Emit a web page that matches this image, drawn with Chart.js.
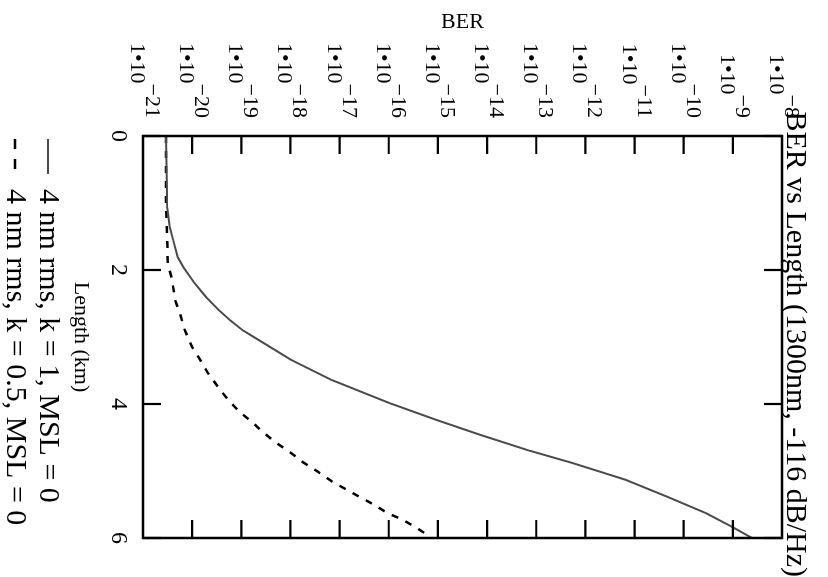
<!DOCTYPE html>
<html>
<head>
<meta charset="utf-8">
<script src="https://cdn.jsdelivr.net/npm/chart.js@4.4.0/dist/chart.umd.min.js"></script>
<style>
  html, body { margin: 0; padding: 0; background: #fff; overflow: hidden; }
  body { width: 828px; height: 577px; position: relative; }
  /* the chart is drawn upright (577 x 828) and then turned a quarter clockwise */
  #wrap { position: absolute; left: 0; top: 0; width: 577px; height: 828px;
          transform-origin: 0 0; transform: translateX(828px) rotate(90deg); }
  canvas { display: block; }
</style>
</head>
<body>
<div id="wrap"><canvas id="myChart" width="577" height="828"></canvas></div>
<script>
// Dados
var titleText = 'BER vs Length (1300nm, -116 dB/Hz)';
var seriesNames = ['4 nm rms, k = 1, MSL = 0', '4 nm rms, k = 0.5, MSL = 0'];

var lengthK1 = [0, 1.07, 1.36, 1.55, 1.81, 1.97, 2.19, 2.40, 2.60, 2.75, 2.90, 3.04, 3.34, 3.64,
                3.99, 4.24, 4.46, 4.69, 4.88, 5.13, 5.39, 5.63, 5.84, 6.0];
var berK1 = [2.95e-21, 3.1e-21, 3.5e-21, 4.1e-21, 5.1e-21, 6.8e-21, 1.1e-20, 1.9e-20, 3.5e-20, 5.9e-20,
             1.07e-19, 2.2e-19, 1.02e-18, 6.8e-18, 1.07e-16, 9.5e-16, 7.2e-15, 6.8e-14, 5.4e-13, 6.5e-12,
             4.8e-11, 2.85e-10, 1.0e-9, 2.45e-9];

var lengthK05 = [0, 1.03, 1.55, 1.90, 2.15, 2.45, 2.64, 2.90, 3.15, 3.34, 3.54, 3.75, 3.94, 4.12, 4.27,
                 4.42, 4.57, 4.72, 4.87, 5.01, 5.16, 5.39, 5.51, 5.63, 5.73, 5.85, 5.96, 6.0];
var berK05 = [2.95e-21, 2.95e-21, 3.1e-21, 3.2e-21, 3.9e-21, 4.5e-21, 5.6e-21, 7.1e-21, 1.0e-20, 1.45e-20,
              2.1e-20, 3.4e-20, 5.4e-20, 9.3e-20, 1.66e-19, 2.75e-19, 4.9e-19, 9.8e-19, 1.8e-18, 3.6e-18,
              7.1e-18, 2.6e-17, 5.2e-17, 9.5e-17, 1.95e-16, 3.7e-16, 6.3e-16, 7.1e-16];

var lengthTicks = [0, 2, 4, 6];
var berExponents = [-21, -20, -19, -18, -17, -16, -15, -14, -13, -12, -11, -10, -9, -8];

var serif = '"Liberation Serif", "Times New Roman", serif';

function toPoints(xs, ys) {
    return xs.map(function (x, i) { return { x: x, y: ys[i] }; });
}

// Moldura e marcas de escala voltadas para dentro
var frameTicks = {
    id: 'frameTicks',
    afterDatasetsDraw: function (chart) {
        var ctx = chart.ctx, a = chart.chartArea;
        var xs = chart.scales.x, ys = chart.scales.y;
        ctx.save();
        ctx.strokeStyle = '#000';
        ctx.lineWidth = 2.5;
        ctx.strokeRect(a.left, a.top, a.right - a.left, a.bottom - a.top);
        ctx.lineWidth = 2.2;
        ctx.beginPath();
        xs.ticks.forEach(function (t) {
            var px = xs.getPixelForValue(t.value);
            ctx.moveTo(px, a.bottom); ctx.lineTo(px, a.bottom - 18);
            ctx.moveTo(px, a.top); ctx.lineTo(px, a.top + 18);
        });
        ys.ticks.forEach(function (t) {
            var py = ys.getPixelForValue(t.value);
            ctx.moveTo(a.left, py); ctx.lineTo(a.left + 18, py);
            ctx.moveTo(a.right, py); ctx.lineTo(a.right - 18, py);
        });
        ctx.stroke();
        ctx.restore();
    }
};

// Rótulos 1•10^-n com expoente elevado
var berLabels = {
    id: 'berLabels',
    afterDraw: function (chart) {
        var ctx = chart.ctx, ys = chart.scales.y;
        var right = chart.chartArea.left - 18;
        ctx.save();
        ctx.font = '22px ' + serif;
        ctx.fillStyle = '#000';
        ctx.textBaseline = 'alphabetic';
        ctx.textAlign = 'right';
        berExponents.forEach(function (e) {
            var py = ys.getPixelForValue(Math.pow(10, e));
            var sup = '\u2212' + Math.abs(e);
            var w = ctx.measureText(sup).width;
            ctx.fillText(sup, right, py - 3);
            ctx.fillText('1\u202210', right - w, py + 12);
        });
        ctx.restore();
    }
};

var config = {
    type: 'line',
    data: {
        datasets: [{
            label: seriesNames[0],
            data: toPoints(lengthK1, berK1),
            borderColor: '#4a4a4a',
            borderWidth: 2,
            pointRadius: 0,
            tension: 0,
            fill: false
        }, {
            label: seriesNames[1],
            data: toPoints(lengthK05, berK05),
            borderColor: '#000',
            borderWidth: 2.5,
            borderDash: [7, 8],
            pointRadius: 0,
            tension: 0,
            fill: false
        }]
    },
    options: {
        responsive: false,
        animation: false,
        devicePixelRatio: 1,
        layout: { padding: 0 },
        plugins: {
            title: {
                display: true,
                text: titleText,
                align: 'end',
                color: '#000',
                font: { family: serif, size: 30, weight: 'normal', lineHeight: 0.833 },
                padding: { top: 21, bottom: 0 }
            },
            legend: {
                position: 'bottom',
                align: 'start',
                fullSize: false,
                maxHeight: 66,
                labels: {
                    usePointStyle: true,
                    pointStyle: 'line',
                    pointStyleWidth: 35,
                    color: '#000',
                    font: { family: serif, size: 30 },
                    padding: 3,
                    generateLabels: function (chart) {
                        return chart.data.datasets.map(function (ds, i) {
                            return {
                                text: ds.label,
                                datasetIndex: i,
                                hidden: false,
                                fontColor: '#000',
                                fillStyle: ds.borderColor,
                                strokeStyle: ds.borderColor,
                                lineWidth: ds.borderWidth,
                                lineDash: ds.borderDash ? [10, 10] : [],
                                pointStyle: 'line'
                            };
                        });
                    }
                }
            },
            tooltip: { enabled: false }
        },
        scales: {
            x: {
                type: 'linear',
                min: 0,
                max: 6,
                afterBuildTicks: function (scale) {
                    scale.ticks = lengthTicks.map(function (v) { return { value: v }; });
                },
                afterFit: function (scale) { scale.height = 77; },
                grid: { display: false },
                border: { display: false },
                ticks: { color: '#000', font: { family: serif, size: 24 }, padding: 2, maxRotation: 0, autoSkip: false },
                title: {
                    display: true,
                    text: 'Length (km)',
                    color: '#000',
                    font: { family: serif, size: 22 },
                    padding: { top: 0, bottom: 2 }
                }
            },
            y: {
                type: 'logarithmic',
                min: 1e-21,
                max: 1e-8,
                afterBuildTicks: function (scale) {
                    scale.ticks = berExponents.map(function (e) { return { value: Math.pow(10, e) }; });
                },
                afterFit: function (scale) { scale.width = 136; },
                grid: { display: false },
                border: { display: false },
                ticks: { color: 'rgba(0,0,0,0)', font: { family: serif, size: 22 }, autoSkip: false },
                title: {
                    display: true,
                    text: 'BER',
                    color: '#000',
                    font: { family: serif, size: 22 },
                    padding: { top: 9, bottom: 0 }
                }
            },
            // espaço vazio à direita da área do gráfico
            yRight: {
                type: 'linear',
                position: 'right',
                display: true,
                afterFit: function (scale) { scale.width = 39; },
                grid: { display: false },
                border: { display: false },
                ticks: { display: false }
            }
        }
    },
    plugins: [frameTicks, berLabels]
};

var chart = new Chart(document.getElementById('myChart').getContext('2d'), config);
</script>
</body>
</html>
